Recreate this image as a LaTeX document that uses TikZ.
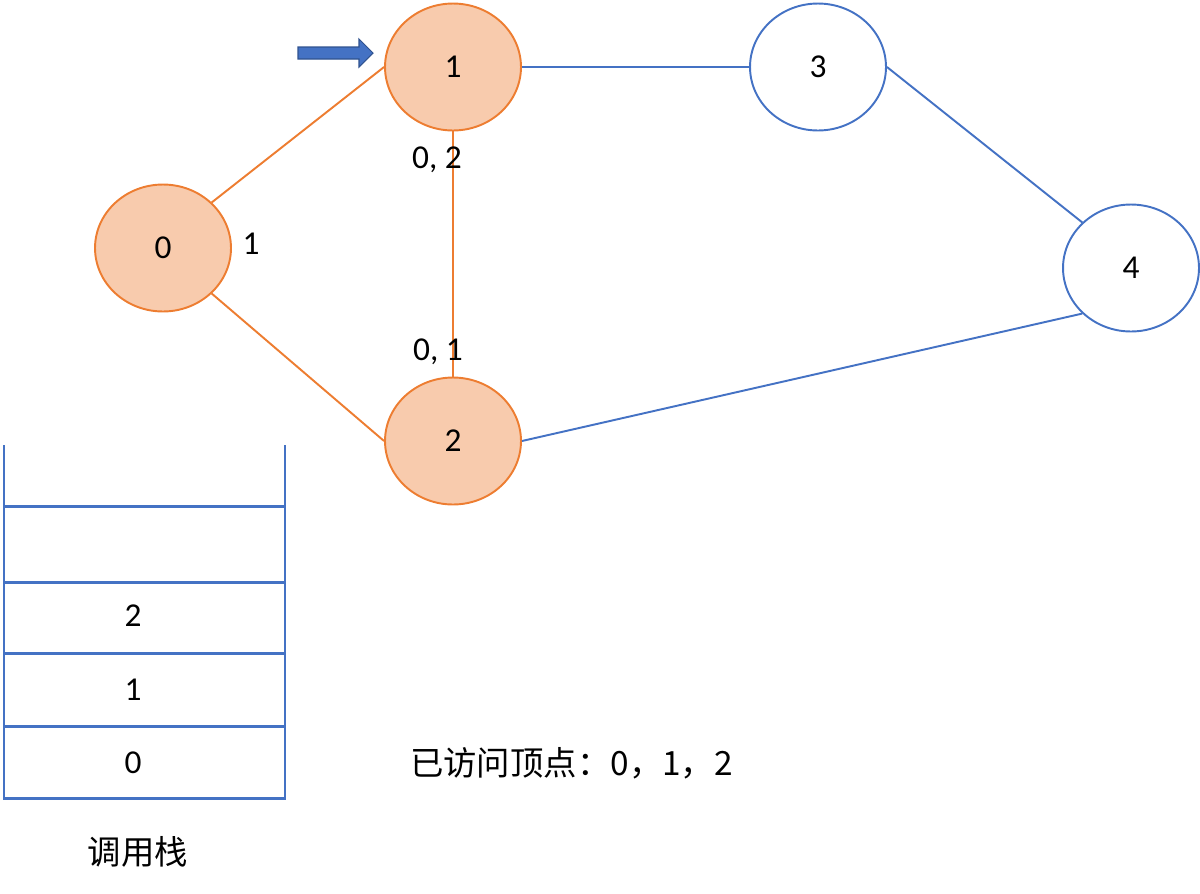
\documentclass[tikz,border=0pt]{standalone}
\usepackage{fontspec}
\setmainfont{Carlito}
\newfontfamily\cjk{Noto Sans CJK SC}
\usetikzlibrary{shapes.geometric}
\definecolor{vorange}{HTML}{ED7D31}
\definecolor{vfill}{HTML}{F8CBAD}
\definecolor{vblue}{HTML}{4472C4}
\definecolor{vdark}{HTML}{2F528F}
\tikzset{
  vertex/.style={ellipse,draw=vblue,line width=1.1pt,minimum width=2.72cm,minimum height=2.54cm,inner sep=0pt},
  visited/.style={vertex,draw=vorange,fill=vfill},
  seen/.style={draw=vorange,line width=1.1pt},
  unseen/.style={draw=vblue,line width=1.1pt},
  stackline/.style={draw=vblue,line width=1.7pt}
}
\begin{document}
\begin{tikzpicture}[x=0.02cm,y=-0.02cm,font=\fontsize{19}{22}\selectfont]
        \useasboundingbox (0,0) rectangle (1200,893);
        % graph
        \node[visited] (v0) at (163,248) {0};
        \node[visited] (v1) at (453,67) {1};
        \node[visited] (v2) at (453,441) {2};
        \node[vertex] (v3) at (818,67) {3};
        \node[vertex] (v4) at (1131,268) {4};
        \draw[seen] (v0.north east)--(v1.west);
        \draw[seen] (v0.south east)--(v2.west);
        \draw[seen] (v1.south)--(v2.north);
        \draw[unseen] (v1.east)--(v3.west);
        \draw[unseen] (v3.east)--(v4.north west);
        \draw[unseen] (v2.east)--(v4.south west);
        \node (l0) at (251,244) {1};
        \node (l1) at (437,160) {0, 2};
        \node (l2) at (438,352) {0, 1};
        % current vertex
        \draw[fill=vblue,draw=vdark,line width=0.6pt] (298,47)--(359,47)--(359,39)--(373,53)--(359,67)--(359,59)--(298,59)--cycle;
        % call stack
        \draw[stackline] (4,445)--(4,798)--(285,798)--(285,445);
        \foreach \y in {506,582,653,726} \draw[stackline] (4,\y)--(285,\y);
        \node (s2) at (133,616) {2};
        \node (s1) at (133,690) {1};
        \node (s0) at (133,763) {0};
        \node (stk) at (138,852) {\cjk 调用栈};
        \node[anchor=west] (done) at (404,763) {\cjk 已访问顶点：0，1，2};
    \end{tikzpicture}
\end{document}
